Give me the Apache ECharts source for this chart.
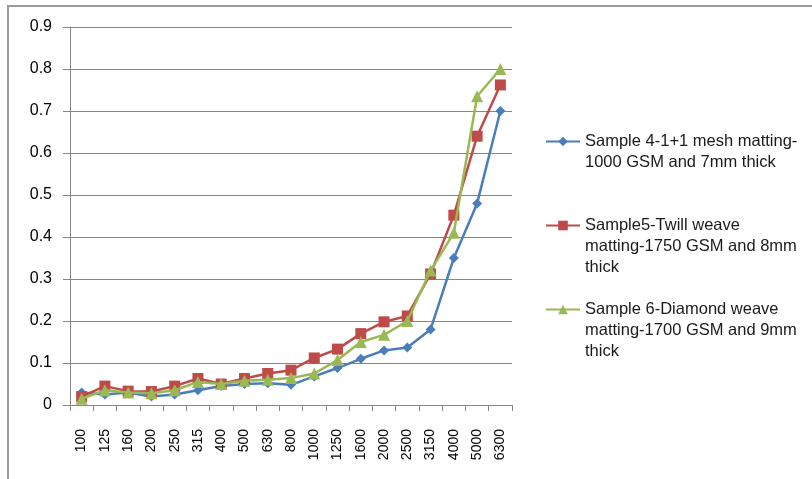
<!DOCTYPE html>
<html><head><meta charset="utf-8">
<script src="https://cdn.jsdelivr.net/npm/echarts@6/dist/echarts.min.js"></script>
<style>html,body{margin:0;padding:0;background:#fff}#c{width:812px;height:479px}</style>
</head><body><div id="c"></div>
<script>
const categories = ['100','125','160','200','250','315','400','500','630','800','1000','1250','1600','2000','2500','3150','4000','5000','6300'];
const sample4 = [0.03,0.025,0.03,0.02,0.025,0.035,0.045,0.05,0.052,0.048,0.068,0.088,0.11,0.13,0.137,0.18,0.35,0.48,0.70];
const sample5 = [0.02,0.045,0.033,0.032,0.045,0.063,0.05,0.063,0.075,0.083,0.112,0.133,0.17,0.198,0.212,0.312,0.452,0.64,0.762];
const sample6 = [0.015,0.035,0.03,0.028,0.035,0.055,0.05,0.058,0.06,0.064,0.075,0.107,0.15,0.167,0.2,0.32,0.41,0.735,0.8];
const names = ['Sample 4-1+1 mesh matting-\n1000 GSM and 7mm thick','Sample5-Twill weave\nmatting-1750 GSM and 8mm\nthick','Sample 6-Diamond weave\nmatting-1700 GSM and 9mm\nthick'];
const colors = ['#4A7EBB','#BE4B48','#98B954'];
const symbols = ['diamond','rect','triangle'];
const symbolSizes = [10,11,12];
const values = [sample4, sample5, sample6];

const font = 'Liberation Sans';
const chart = echarts.init(document.getElementById('c'), null, {renderer:'canvas'});
const legendTops = [110, 173, 257];
const legendPad = ['\n', '\n\n', '\n\n'];
chart.setOption({
  animation:false,
  backgroundColor:'#fff',
  graphic:[{type:'rect', shape:{x:8, y:6, width:900, height:600}, style:{fill:null, stroke:'#9a9a9a', lineWidth:2}, silent:true}],
  grid:{left:70, right:300, top:27, bottom:74, containLabel:false},
  legend: names.map((n,i)=>({
    data:[n], left:545, top:legendTops[i], orient:'vertical', padding:0,
    itemWidth:34, itemHeight:12, itemGap:0,
    formatter: (name)=> legendPad[i] + name,
    textStyle:{fontFamily:font, fontSize:16.5, color:'#1a1a1a', lineHeight:21}
  })),
  xAxis:{type:'category', data:categories, boundaryGap:true,
    axisLine:{lineStyle:{color:'#868686', width:1}},
    axisTick:{show:true, length:6, alignWithLabel:false, lineStyle:{color:'#868686'}},
    axisLabel:{rotate:90, margin:24, fontFamily:font, fontSize:14, color:'#000', interval:0},
    splitLine:{show:false}},
  yAxis:{type:'value', min:0, max:0.9, interval:0.1,
    axisLine:{show:true, lineStyle:{color:'#868686', width:1}},
    axisTick:{show:true, length:7, lineStyle:{color:'#868686'}},
    axisLabel:{margin:18, fontFamily:font, fontSize:16, color:'#000',
      formatter:(v)=> v===0 ? '0' : (+v.toFixed(1)).toString()},
    splitLine:{show:true, lineStyle:{color:'#868686', width:1}}},
  series: names.map((n,i)=>({
    name:n, type:'line', data:values[i], symbol:symbols[i], symbolSize:symbolSizes[i],
    lineStyle:{color:colors[i], width:2.5}, itemStyle:{color:colors[i]},
    showAllSymbol:true, z:2+i
  }))
});
</script></body></html>
